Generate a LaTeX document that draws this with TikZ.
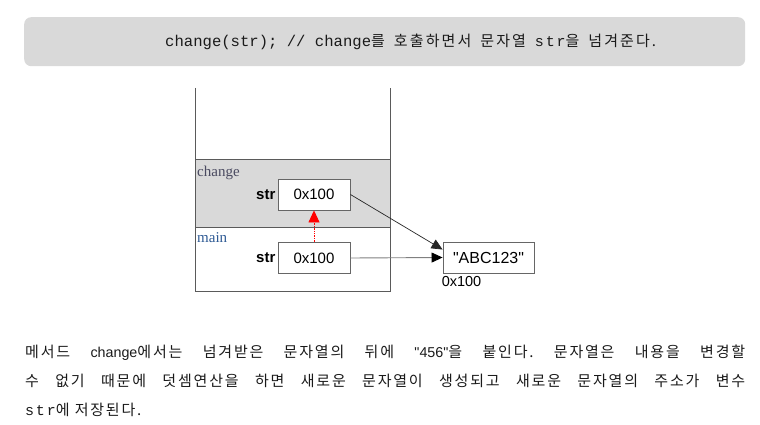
\documentclass[tikz,border=0pt]{standalone}
\usepackage{fontspec}
\setmonofont{Liberation Mono}
\newfontfamily\monosp[LetterSpace=12]{Liberation Mono}
\newfontfamily\kr[LetterSpace=12]{Noto Sans CJK KR}
\newfontfamily\krtop[LetterSpace=14]{Noto Sans CJK KR}
\newfontfamily\arial{Liberation Sans}
\newfontfamily\tms{Liberation Serif}
\usetikzlibrary{arrows.meta,calc}
\definecolor{bannergray}{HTML}{D9D9D9}
\definecolor{framegray}{HTML}{5A5A5A}
\definecolor{boxgray}{HTML}{666666}
\definecolor{changecol}{HTML}{4A4A60}
\definecolor{maincol}{HTML}{2E5A94}
\definecolor{textcol}{HTML}{1A1A1A}
\newcommand\monotop[1]{{\ttfamily\fontsize{15.6}{16}\selectfont #1}}
\newcommand\strtop[1]{{\monosp\fontsize{15}{16}\selectfont #1}}
\newcommand\latp[1]{{\arial\fontsize{14.3}{29}\selectfont #1}}
\newcommand\monop[1]{{\monosp\fontsize{15}{29}\selectfont #1}}
\newcommand\tsp{\hspace*{9pt}}
\tikzset{
  valbox/.style={draw=boxgray, fill=white, line width=0.9pt, minimum width=72pt, minimum height=31pt, inner sep=0pt, font=\arial\fontsize{15}{15}\selectfont},
  varlabel/.style={anchor=east, inner sep=1pt, font=\arial\bfseries\fontsize{15}{15}\selectfont},
  framelabel/.style={anchor=base west, inner sep=0pt, font=\tms\fontsize{15}{15}\selectfont},
  ptr/.style={-{Triangle[length=11pt,width=10pt]}, line width=0.7pt}
}
\begin{document}
\begin{tikzpicture}[x=1pt,y=-1pt]
\useasboundingbox (0,0) rectangle (760,425);
% banner
\node[fill=bannergray, rounded corners=7pt, minimum width=721pt, minimum height=49pt, anchor=north west, inner sep=0pt] (banner) at (24,17) {};
\node[anchor=west, inner sep=0pt, text=textcol, font=\krtop\fontsize{15}{16}\selectfont] (toptext) at (165,42)
  {\monotop{change(str); // change}를\tsp 호출하면서\tsp 문자열\tsp\strtop{str}을\tsp 넘겨준다.};
% stack frame
\fill[bannergray] (195,159) rectangle (390,227);
\draw[framegray, line width=1pt] (195,88) -- (195,291) -- (390,291) -- (390,88);
\draw[framegray, line width=1pt] (195,159) -- (390,159);
\draw[framegray, line width=1pt] (195,227) -- (390,227);
\node[framelabel, text=changecol] (lchange) at (197,176) {change};
\node[framelabel, text=maincol] (lmain) at (197,242) {main};
% boxes
\node[valbox] (cbox) at (314,194.5) {0x100};
\node[valbox] (mbox) at (314,258) {0x100};
\node[valbox, minimum width=91pt, font=\arial\fontsize{16}{16}\selectfont] (abc) at (488.5,257.5) {"ABC123"};
\node[varlabel] (cstr) at ([xshift=-1pt]cbox.west) {str};
\node[varlabel] (mstr) at ([xshift=-1pt]mbox.west) {str};
\node[anchor=north west, inner sep=0pt, font=\arial\fontsize{14.5}{14.5}\selectfont] (addr) at ([xshift=-1pt,yshift=-3pt]abc.south west) {0x100};
% pointers
\draw[ptr, black!85] (cbox.east) -- ($(abc.north west)!0.25!(abc.south west)$);
\draw[ptr, draw=gray, line width=0.9pt, -{Triangle[length=11pt,width=10pt,black]}] (mbox.east) -- (abc.west);
\draw[red, densely dotted, line width=0.7pt, -{Triangle[length=12pt,width=11pt]}] (mbox.north) -- (cbox.south);
% paragraph
\node[anchor=north west, inner sep=0pt, text width=720pt, align=justify, text=textcol, font=\kr\fontsize{15}{29}\selectfont] (para) at (25,344.5)
  {\frenchspacing 메서드 \latp{change}에서는 넘겨받은 문자열의 뒤에 \latp{"456"}을 붙인다. 문자열은 내용을 변경할\linebreak 수 없기 때문에 덧셈연산을 하면 새로운 문자열이 생성되고 새로운 문자열의 주소가 변수\linebreak \monop{str}에 저장된다.};
\end{tikzpicture}
\end{document}
